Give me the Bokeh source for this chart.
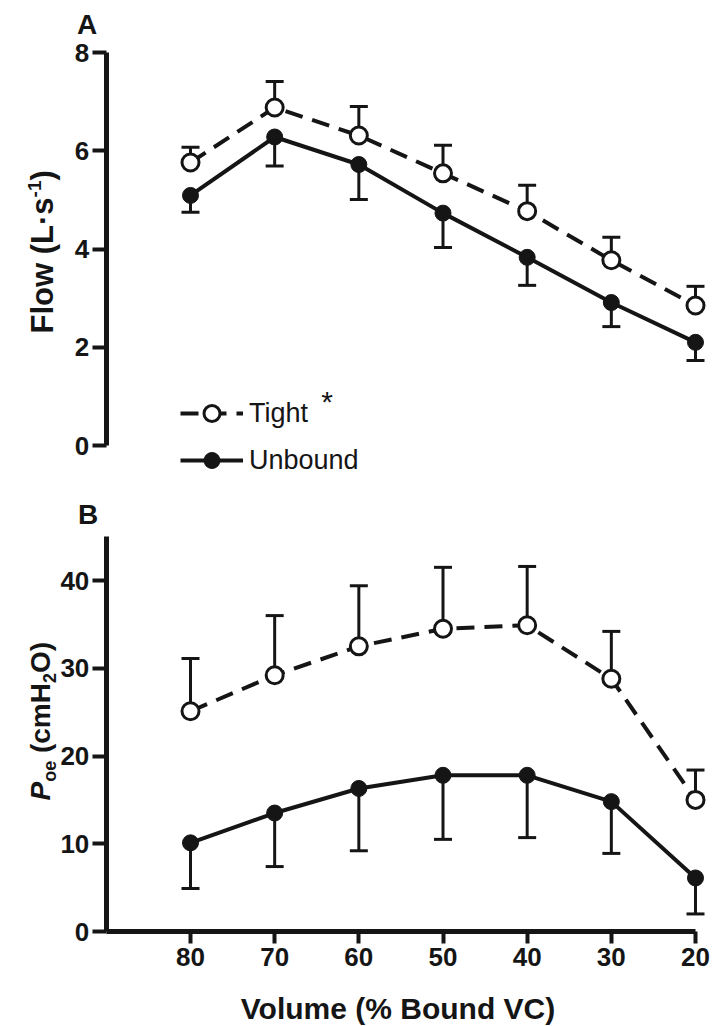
import math
from bokeh.plotting import figure
from bokeh.models import (Range1d, FixedTicker, ColumnDataSource, Whisker, TeeHead,
                          Label, Legend, LegendItem)
from bokeh.layouts import column
from bokeh.embed import file_html
from bokeh.resources import INLINE

# ---------------- data ----------------
volume = [80, 70, 60, 50, 40, 30, 20]
x_ticks = [80, 70, 60, 50, 40, 30, 20]

flow_tight = [5.76, 6.88, 6.31, 5.54, 4.77, 3.77, 2.85]
flow_tight_sd = [0.31, 0.53, 0.59, 0.57, 0.53, 0.47, 0.39]
flow_unbound = [5.09, 6.28, 5.72, 4.73, 3.83, 2.91, 2.10]
flow_unbound_sd = [0.34, 0.59, 0.71, 0.70, 0.57, 0.49, 0.37]
flow_ticks = [0, 2, 4, 6, 8]

poe_tight = [25.1, 29.2, 32.5, 34.5, 34.9, 28.8, 15.0]
poe_tight_sd = [6.0, 6.8, 6.9, 7.0, 6.7, 5.4, 3.4]
poe_unbound = [10.1, 13.5, 16.3, 17.8, 17.8, 14.8, 6.1]
poe_unbound_sd = [5.2, 6.1, 7.1, 7.3, 7.1, 5.9, 4.1]
poe_ticks = [0, 10, 20, 30, 40]

series_labels = ["Tight", "Unbound"]
x_title = "Volume (% Bound VC)"

# ---------------- style / layout ----------------
INK = "#151515"
FONT = "Liberation Sans"
W = 713
HA, HB = 485, 541
BASE_CORR = 0.27   # empirical baseline correction (fraction of font size)

# Arial (Liberation Sans) bold advance widths /1000
ARIAL_B = {"F": 611, "l": 278, "o": 611, "w": 778, " ": 278, "(": 333, ")": 333,
           "L": 611, "\u00b7": 333, "s": 556, "-": 333, "1": 556, "P": 667,
           "e": 556, "c": 556, "m": 889, "H": 722, "2": 556, "O": 778}


def text_w(t, size):
    return sum(ARIAL_B.get(ch, 556) for ch in t) * size / 1000.0


def add_label(p, x, y, text, size, style="bold", align="center", angle=0.0):
    c = BASE_CORR * size
    if angle:
        x -= c
    else:
        y += c
    p.add_layout(Label(x=x, y=y, x_units="screen", y_units="screen", text=text,
                       angle=angle, text_font=FONT, text_font_size=f"{size}px",
                       text_font_style=style, text_color=INK, text_align=align,
                       text_baseline="alphabetic"))


def rotated_title(p, pieces, x0, y0):
    y = y0
    for txt, size, shift, style in pieces:
        lead = len(txt) - len(txt.lstrip(" "))
        y += text_w(" " * lead, size)
        txt = txt.lstrip(" ")
        add_label(p, x0 + shift, y, txt, size, style=style, align="left", angle=math.pi / 2)
        y += text_w(txt, size)


def style_axis(ax, ticks, bounds, tick_out=14, standoff=3):
    ax.ticker = FixedTicker(ticks=ticks)
    ax.bounds = bounds
    ax.axis_line_width = 5
    ax.axis_line_color = INK
    ax.major_tick_line_width = 4
    ax.major_tick_line_color = INK
    ax.major_tick_out = tick_out
    ax.major_tick_in = 0
    ax.minor_tick_line_color = None
    ax.major_label_text_font = FONT
    ax.major_label_text_font_size = "26px"
    ax.major_label_text_font_style = "bold"
    ax.major_label_text_color = INK
    ax.major_label_standoff = standoff


def draw_series(p, x, y_t, sd_t, y_u, sd_u):
    src_t = ColumnDataSource(dict(x=x, y=y_t, up=[a + b for a, b in zip(y_t, sd_t)]))
    src_u = ColumnDataSource(dict(x=x, y=y_u, lo=[a - b for a, b in zip(y_u, sd_u)]))
    p.add_layout(Whisker(source=src_t, base="x", lower="y", upper="up", dimension="height",
                         line_width=3, line_color=INK, lower_head=None,
                         upper_head=TeeHead(size=18, line_width=3, line_color=INK)))
    p.add_layout(Whisker(source=src_u, base="x", lower="lo", upper="y", dimension="height",
                         line_width=3, line_color=INK, upper_head=None,
                         lower_head=TeeHead(size=18, line_width=3, line_color=INK)))
    lt = p.line("x", "y", source=src_t, line_width=4, line_color=INK, line_dash="18 10")
    lu = p.line("x", "y", source=src_u, line_width=4, line_color=INK)
    st = p.scatter("x", "y", source=src_t, marker="circle", size=17, fill_color="white",
                   line_color=INK, line_width=3)
    su = p.scatter("x", "y", source=src_u, marker="circle", size=16, fill_color=INK,
                   line_color=INK, line_width=1)
    return (lt, st), (lu, su)


# x scale (frame spans the full width): 80 at px 190, 20 at px 695
xppu = (695 - 190) / 60.0
x_start = 80 + 190 / xppu
x_end = 20 - (W - 695) / xppu

# ---------------- Panel A ----------------
a_ppu = (445 - 52) / 8.0
a_top = 8 + 52 / a_ppu
a_bot = -(HA - 445) / a_ppu
pA = figure(width=W, height=HA, output_backend="svg", toolbar_location=None,
            x_range=Range1d(x_start, x_end), y_range=Range1d(a_bot, a_top),
            x_axis_location=None, min_border=0)
pA.outline_line_color = None
pA.grid.visible = False
pA.yaxis[0].fixed_location = 90
style_axis(pA.yaxis[0], flow_ticks, (0, 8))
(tA, tAs), (uA, uAs) = draw_series(pA, volume, flow_tight, flow_tight_sd,
                                    flow_unbound, flow_unbound_sd)

leg = Legend(items=[LegendItem(label=series_labels[0], renderers=[tA, tAs]),
                    LegendItem(label=series_labels[1], renderers=[uA, uAs])],
             location=(180, HA - 480), glyph_width=63, glyph_height=40,
             label_height=40, spacing=7, padding=0, margin=0, label_standoff=6,
             border_line_color=None, background_fill_alpha=0,
             label_text_font=FONT, label_text_font_size="27px", label_text_color=INK)
pA.add_layout(leg)
add_label(pA, 326.5, HA - 409, "*", 30, style="normal")
add_label(pA, 86.5, HA - 32, "A", 28)
rotated_title(pA, [("Flow (L\u00b7s", 31, 0, "bold"), ("-1", 19, -11, "bold"),
                   (")", 31, 0, "bold")], 50, HA - 333)

# ---------------- Panel B ----------------
B0 = HA                      # global y of top of panel B figure
b_zero = 931                 # global y of zero line
b_ppu = (931 - 580) / 40.0
b_top = (b_zero - B0) / b_ppu
b_bot = -(B0 + HB - b_zero) / b_ppu
pB = figure(width=W, height=HB, output_backend="svg", toolbar_location=None,
            x_range=Range1d(x_start, x_end), y_range=Range1d(b_bot, b_top),
            min_border=0)
pB.outline_line_color = None
pB.grid.visible = False
pB.yaxis[0].fixed_location = 90
pB.xaxis[0].fixed_location = 0
style_axis(pB.yaxis[0], poe_ticks, (0, 45))
style_axis(pB.xaxis[0], x_ticks, (20, 90), tick_out=12, standoff=4)
draw_series(pB, volume, poe_tight, poe_tight_sd, poe_unbound, poe_unbound_sd)

fb = B0 + HB   # global y of pB frame bottom
add_label(pB, 397.5, fb - 1016, x_title, 30)
add_label(pB, 87.5, fb - 522, "B", 28)
rotated_title(pB, [("P", 28, 0, "bold italic"), ("oe", 18, 6, "bold"),
                   (" (cmH", 28, 0, "bold"), ("2", 18, 6, "bold"),
                   ("O)", 28, 0, "bold")], 48, fb - 800)

layout = column(pA, pB, spacing=0)
open("out.html", "w").write(file_html(layout, INLINE))
